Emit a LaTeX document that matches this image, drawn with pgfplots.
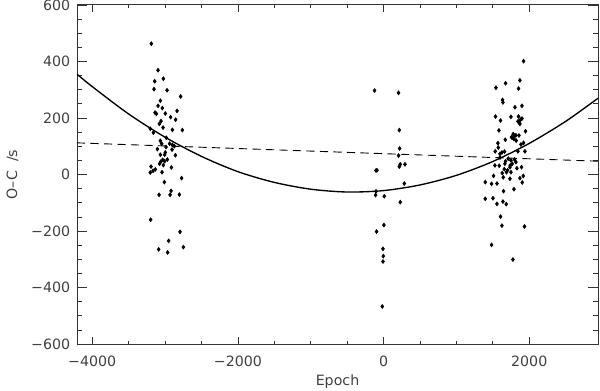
\documentclass[border=0pt]{standalone}
\usepackage{fontspec}
\setmainfont{DejaVu Sans}
\usepackage{pgfplots}
\usepackage{pgfplotstable}
\pgfplotsset{compat=1.18}
\usetikzlibrary{calc}

% O-C timing residuals
\pgfplotstableread{
x y
-3189 463
-3097 369
-3143 330
-3024 339
-3152 302
-2973 298
-2787 276
-3065 261
-3097 243
-3038 235
-3138 219
-3120 215
-2997 216
-2836 225
-2924 203
-2855 194
-3056 189
-3079 179
-3028 166
-3203 162
-3161 148
-2900 158
-2763 157
-2983 130
-3065 119
-3047 109
-2938 109
-2900 105
-2873 100
-2987 97
-3106 90
-2905 88
-2997 78
-2859 68
-3065 70
-3006 70
-3034 52
-2969 53
-3061 45
-3006 47
-3075 38
-3024 33
-3193 28
-2914 25
-3134 18
-3165 13
-3203 7
-3042 8
-2773 -13
-3010 -27
-2918 -58
-3083 -72
-2932 -72
-2804 -71
-3198 -160
-2795 -203
-2951 -235
-2749 -257
-3088 -265
-2965 -276
-124 297
206 289
216 157
220 92
206 67
229 36
294 36
216 28
-104 14
-91 15
284 -32
-104 -60
-110 -73
10 -77
229 -98
5 -179
-96 -202
-8 -263
-4 -289
-8 -308
-18 -467
1922 401
1675 323
1872 333
1543 307
1853 304
1634 264
1639 255
1804 238
1900 243
1537 205
1606 191
1749 204
1853 205
1900 198
1845 188
1872 179
1881 194
1859 187
1584 156
1949 153
1780 143
1817 139
1757 132
1798 135
1859 138
1790 126
1821 120
1767 130
1671 123
1570 111
1886 106
1922 112
1575 95
1533 82
1661 81
1625 78
1845 82
1941 82
1598 73
1598 60
1712 56
1675 47
1749 50
1798 53
1817 44
1767 38
1666 38
1739 32
1588 31
1529 32
1831 22
1735 26
1894 26
1657 19
1702 15
1749 8
1688 8
1629 5
1510 -5
1872 -13
1918 -5
1643 -10
1735 -15
1396 -27
1483 -33
1557 -32
1904 -28
1647 -59
1790 -52
1396 -86
1502 -84
1557 -104
1639 -96
1684 -105
1606 -149
1625 -181
1935 -184
1483 -249
1776 -301
}\ocdata

\begin{document}
\begin{tikzpicture}
\begin{axis}[
  name=ax,
  scale only axis,
  width=347.3bp, height=226bp,
  xmin=-4210, xmax=2945,
  ymin=-600, ymax=600,
  font=\fontsize{9.5}{11}\selectfont,
  axis line style={black!80, line width=0.6bp},
  tick style={black!80, line width=0.5bp},
  tick align=inside,
  xtick={-4000,-2000,0,2000},
  xticklabels={−4000,−2000,0,2000},
  ytick={-600,-400,-200,0,200,400,600},
  yticklabels={−600,−400,−200,0,200,400,600},
  minor x tick num=3,
  minor y tick num=3,
  xtick style={/pgfplots/major tick length=4.6bp, /pgfplots/minor tick length=2.3bp},
  ytick style={/pgfplots/major tick length=6.7bp, /pgfplots/minor tick length=3.3bp},
  xticklabel style={anchor=center, yshift=-11.8bp, text=black!75},
  yticklabel style={xshift=-1bp, text=black!75},
  xlabel={Epoch},
  ylabel={O–C\ \ /s},
  every axis x label/.style={at={(axis description cs:0.5,0)}, yshift=-24.7bp, anchor=center, text=black!75},
  every axis y label/.style={at={(axis description cs:0,0.5)}, xshift=-43bp, rotate=90, anchor=center, text=black!75},
]
\addplot[only marks, mark=diamond*, mark size=1.3bp, black] table {\ocdata};
\addplot[black, line width=0.9bp, smooth] coordinates {
  (-4210,355) (-4000,311) (-3500,214) (-3000,132) (-2500,64) (-2000,10)
  (-1500,-28) (-1000,-52) (-500,-62) (0,-57) (500,-37) (1000,-3)
  (1500,46) (2000,110) (2500,188) (2945,270)
};
\addplot[black, line width=0.6bp, dash pattern=on 5.5bp off 3.5bp] coordinates {
  (-4210,112) (2945,47)
};
\end{axis}
\pgfresetboundingbox
\path[use as bounding box] ($(ax.south west)+(-51.3bp,-30.7bp)$) rectangle ($(ax.north east)+(1.3bp,3.3bp)$);
\end{tikzpicture}
\end{document}
